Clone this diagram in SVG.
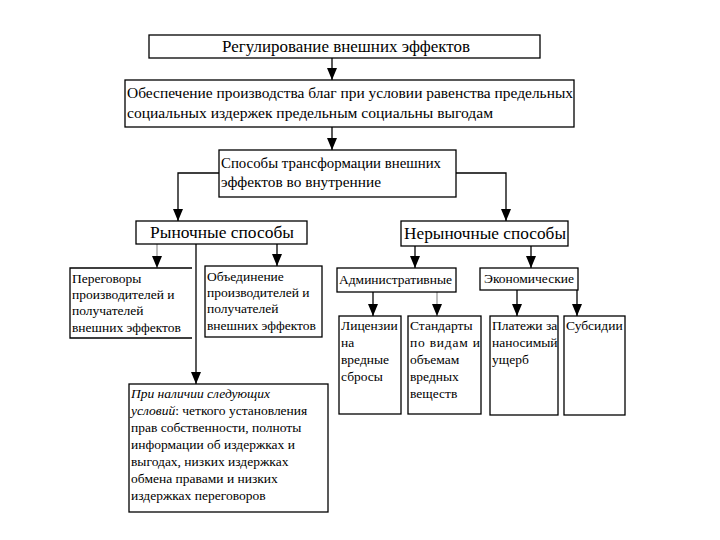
<svg xmlns="http://www.w3.org/2000/svg" width="720" height="540" viewBox="0 0 720 540" font-family="'Liberation Serif', 'Times New Roman', serif">
<style>
.box{fill:#fff;stroke:#000;stroke-width:1.3}
.open{fill:none;stroke:#000;stroke-width:1.3}
.ln{fill:none;stroke:#000;stroke-width:1.3}
.gl{fill:none;stroke:#999;stroke-width:1.3}
text{fill:#000}
.t17{font-size:17px}
.t15{font-size:15px}
.t13{font-size:13.5px}
</style>
<defs>
<marker id="ah" viewBox="0 0 10 12" refX="5" refY="12" markerWidth="10" markerHeight="12" markerUnits="userSpaceOnUse">
<path d="M0,0 L10,0 L5,12 Z" fill="#000"/>
</marker>
</defs>
<rect width="720" height="540" fill="#fff"/>
<g id="connectors">
<path class="ln" d="M332,58 V80" marker-end="url(#ah)"/>
<path class="ln" d="M332,127 V150" marker-end="url(#ah)"/>
<path class="ln" d="M219,173 H178 V221" marker-end="url(#ah)"/>
<path class="ln" d="M456,173 H506 V221" marker-end="url(#ah)"/>
<path class="gl" d="M157,244 V268" marker-end="url(#ah)"/>
<path class="ln" d="M196,244 V384" marker-end="url(#ah)"/>
<path class="ln" d="M277,244 V266" marker-end="url(#ah)"/>
<path class="ln" d="M415,246 V268" marker-end="url(#ah)"/>
<path class="ln" d="M531,246 V268" marker-end="url(#ah)"/>
<path class="ln" d="M373,292 V316" marker-end="url(#ah)"/>
<path class="gl" d="M437,292 V316" marker-end="url(#ah)"/>
<path class="ln" d="M517,290 V316" marker-end="url(#ah)"/>
<path class="ln" d="M577,290 V316" marker-end="url(#ah)"/>
</g>
<g id="n1">
<rect class="box" x="149" y="35" width="391" height="23"/>
<text class="t17" x="346" y="52" text-anchor="middle" textLength="248" lengthAdjust="spacingAndGlyphs">Регулирование внешних эффектов</text>
</g>
<g id="n2">
<rect class="box" x="125" y="80" width="449" height="47"/>
<text class="t15" x="127" y="98" textLength="446" lengthAdjust="spacingAndGlyphs">Обеспечение производства благ при условии равенства предельных</text>
<text class="t15" x="127" y="118" textLength="366" lengthAdjust="spacingAndGlyphs">социальных издержек предельным социальны выгодам</text>
</g>
<g id="n3">
<rect class="box" x="219" y="150" width="237" height="47"/>
<text class="t15" x="221" y="168" textLength="220" lengthAdjust="spacingAndGlyphs">Способы трансформации внешних</text>
<text class="t15" x="221" y="187" textLength="160" lengthAdjust="spacingAndGlyphs">эффектов во внутренние</text>
</g>
<g id="n4">
<rect class="box" x="136" y="221" width="171" height="23"/>
<text class="t17" x="222" y="238" text-anchor="middle" textLength="144" lengthAdjust="spacingAndGlyphs">Рыночные способы</text>
</g>
<g id="n5">
<rect class="box" x="401" y="221" width="167" height="25"/>
<text class="t17" x="485" y="239" text-anchor="middle" textLength="162" lengthAdjust="spacingAndGlyphs">Нерыночные способы</text>
</g>
<g id="n6">
<path class="open" d="M192,268 H70 V338 H192"/>
<text class="t13" x="72" y="283">Переговоры</text>
<text class="t13" x="72" y="299">производителей и</text>
<text class="t13" x="72" y="315">получателей</text>
<text class="t13" x="72" y="332">внешних эффектов</text>
</g>
<g id="n7">
<rect class="box" x="205" y="266" width="117" height="71"/>
<text class="t13" x="207" y="281">Объединение</text>
<text class="t13" x="207" y="297">производителей и</text>
<text class="t13" x="207" y="313">получателей</text>
<text class="t13" x="207" y="330">внешних эффектов</text>
</g>
<g id="n8">
<rect class="box" x="129" y="384" width="199" height="128"/>
<text class="t13" x="131" y="398"><tspan font-style="italic">При наличии следующих</tspan></text>
<text class="t13" x="131" y="415"><tspan font-style="italic">условий</tspan>: четкого установления</text>
<text class="t13" x="131" y="432">прав собственности, полноты</text>
<text class="t13" x="131" y="449">информации об издержках и</text>
<text class="t13" x="131" y="466">выгодах, низких издержках</text>
<text class="t13" x="131" y="483">обмена правами и низких</text>
<text class="t13" x="131" y="500">издержках переговоров</text>
</g>
<g id="n9">
<rect class="box" x="337" y="268" width="119" height="24"/>
<text class="t13" x="339" y="284" textLength="113" lengthAdjust="spacingAndGlyphs">Административные</text>
</g>
<g id="n10">
<rect class="box" x="480" y="268" width="98" height="22"/>
<text class="t13" x="529" y="283" text-anchor="middle">Экономические</text>
</g>
<g id="n11">
<rect class="box" x="339" y="316" width="62" height="98"/>
<text class="t13" x="341" y="330">Лицензии</text>
<text class="t13" x="341" y="347">на</text>
<text class="t13" x="341" y="364">вредные</text>
<text class="t13" x="341" y="381">сбросы</text>
</g>
<g id="n12">
<rect class="box" x="408" y="316" width="73" height="98"/>
<text class="t13" x="410" y="330">Стандарты</text>
<text class="t13" x="410" y="347" textLength="70" lengthAdjust="spacing">по видам и</text>
<text class="t13" x="410" y="364">объемам</text>
<text class="t13" x="410" y="381">вредных</text>
<text class="t13" x="410" y="398">веществ</text>
</g>
<g id="n13">
<rect class="box" x="490" y="316" width="68" height="99"/>
<text class="t13" x="492" y="330">Платежи за</text>
<text class="t13" x="492" y="347">наносимый</text>
<text class="t13" x="492" y="364">ущерб</text>
</g>
<g id="n14">
<rect class="box" x="564" y="316" width="61" height="99"/>
<text class="t13" x="566" y="330">Субсидии</text>
</g>
</svg>
